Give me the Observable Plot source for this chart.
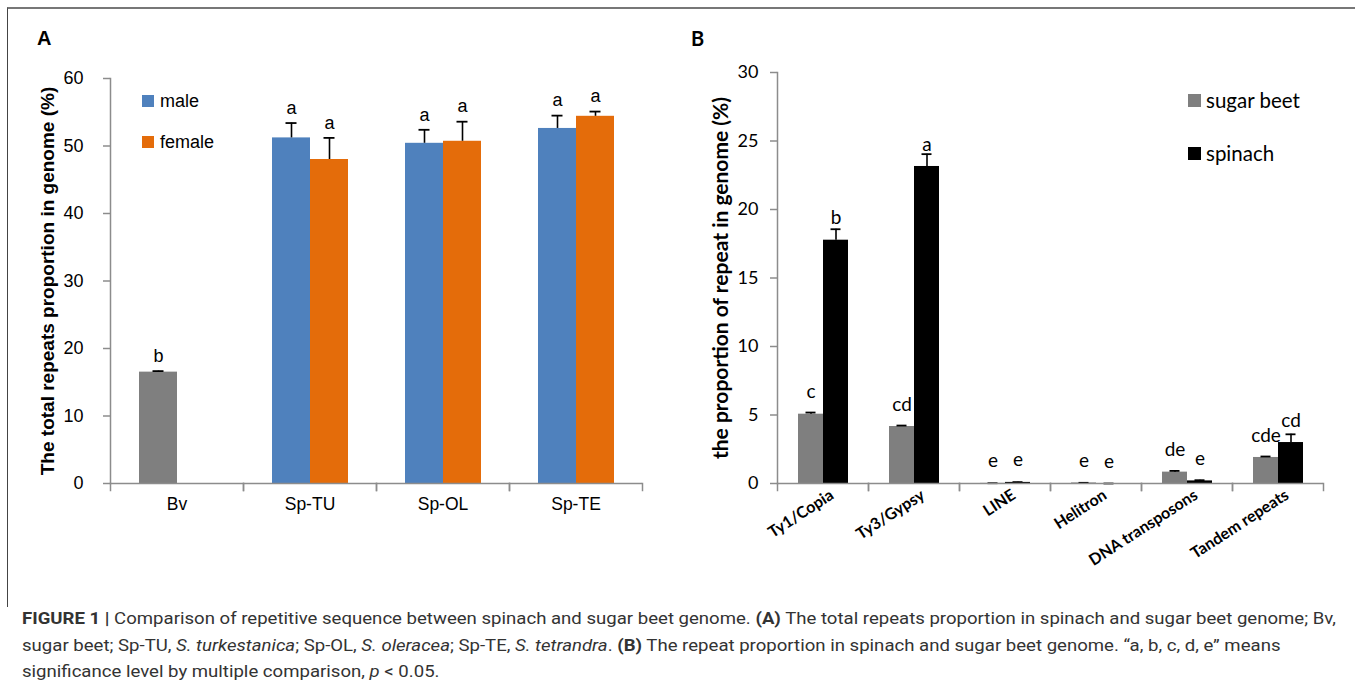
<!DOCTYPE html>
<html><head><meta charset="utf-8">
<script src="https://cdn.jsdelivr.net/npm/d3@7"></script>
<script src="https://cdn.jsdelivr.net/npm/@observablehq/plot@0.6"></script>
<style>
html,body{margin:0;padding:0;background:#fff;}
#fig{position:relative;width:1355px;height:695px;overflow:hidden;background:#fff;}
#box{position:absolute;left:7px;top:7px;width:1400px;height:598px;border-left:1.5px solid #444;border-top:2px solid #777;}
#chartA{position:absolute;left:0;top:0;}
#chartB{position:absolute;left:680px;top:0;}
#chartA [aria-label="y-axis label"]{font-weight:bold;font-size:19px;}
#chartA [aria-label="y-axis tick label"]{font-size:18px;}
#chartA [aria-label="fx-axis tick label"]{font-size:17.5px;}
#chartB [aria-label="y-axis label"]{font-weight:bold;font-size:21px;}
#chartB [aria-label="fx-axis tick label"]{font-weight:bold;font-size:16px;}
.panel{position:absolute;font-weight:bold;}
.leg{position:absolute;display:flex;align-items:center;white-space:nowrap;}
.leg span.sw{display:inline-block;}
.cap{position:absolute;left:22px;white-space:nowrap;font-family:Roboto,"Liberation Sans",sans-serif;font-size:17px;color:#333;transform-origin:0 50%;line-height:20px;}
</style>
</head><body>
<div id="fig">
  <div id="box"></div>
  <div id="chartA"></div>
  <div id="chartB"></div>
  <div class="panel" style="left:37px;top:27px;font-family:'Liberation Sans',Arial,sans-serif;font-size:20px;">A</div>
  <div class="panel" style="left:691px;top:26px;font-family:Lato,'Open Sans',sans-serif;font-size:20px;">B</div>
  <div id="legA"></div>
  <div id="legB"></div>
  <div class="cap" id="cap1" style="top:608px;"><b>FIGURE 1 |</b> Comparison of repetitive sequence between spinach and sugar beet genome. <b>(A)</b> The total repeats proportion in spinach and sugar beet genome; Bv,</div>
  <div class="cap" id="cap2" style="top:635px;">sugar beet; Sp-TU, <i>S. turkestanica</i>; Sp-OL, <i>S. oleracea</i>; Sp-TE, <i>S. tetrandra</i>. <b>(B)</b> The repeat proportion in spinach and sugar beet genome. “a, b, c, d, e” means</div>
  <div class="cap" id="cap3" style="top:661px;">significance level by multiple comparison, <i>p</i> &lt; 0.05.</div>
</div>
<script>
// ---------- Panel A data ----------
const categoriesA = ["Bv", "Sp-TU", "Sp-OL", "Sp-TE"];
const referenceCategory = "Bv";
const sexes = ["male", "female"];
const maleValues = [16.5, 51.2, 50.4, 52.6];
const maleErrors = [0.15, 2.2, 2.0, 1.9];
const maleLetters = ["b", "a", "a", "a"];
const femaleValues = [null, 48.0, 50.7, 54.4];
const femaleErrors = [null, 3.2, 2.9, 0.7];
const femaleLetters = [null, "a", "a", "a"];
const yTicksA = [0, 10, 20, 30, 40, 50, 60];

// ---------- Panel B data ----------
const categoriesB = ["Ty1/Copia", "Ty3/Gypsy", "LINE", "Helitron", "DNA transposons", "Tandem repeats"];
const seriesB = ["sugar beet", "spinach"];
const sugarBeetValues = [5.06, 4.16, 0.01, 0.04, 0.83, 1.90];
const sugarBeetErrors = [0.12, 0.07, 0.01, 0.01, 0.09, 0.07];
const sugarBeetLetters = ["c", "cd", "e", "e", "de", "cde"];
const spinachValues = [17.76, 23.14, 0.08, 0.0, 0.19, 2.99];
const spinachErrors = [0.8, 0.9, 0.02, 0.0, 0.05, 0.6];
const spinachLetters = ["b", "a", "e", "e", "e", "cd"];
const yTicksB = [0, 5, 10, 15, 20, 25, 30];

const colorsA = {"sugar beet": "#7f7f7f", male: "#4f81bd", female: "#e46c0a"};
const colorsB = {"sugar beet": "#7f7f7f", spinach: "#000000"};

// ---------- tables ----------
const rowsA = categoriesA.flatMap((cat, i) => {
  const rows = [{cat, sex: "male", group: cat === referenceCategory ? "sugar beet" : "male",
    value: maleValues[i], err: maleErrors[i], letter: maleLetters[i]}];
  if (femaleValues[i] != null) rows.push({cat, sex: "female", group: "female",
    value: femaleValues[i], err: femaleErrors[i], letter: femaleLetters[i]});
  return rows;
});
const rowsB = categoriesB.flatMap((cat, i) => [
  {cat, series: "sugar beet", value: sugarBeetValues[i], err: sugarBeetErrors[i], letter: sugarBeetLetters[i]},
  {cat, series: "spinach", value: spinachValues[i], err: spinachErrors[i], letter: spinachLetters[i]}
]);

const axisGray = "#8c8c8c";

// ---------- Panel A ----------
const hA = 520, mtA = 78, mbA = 37;
const plotA = Plot.plot({
  width: 660, height: hA, marginLeft: 110, marginRight: 18, marginTop: mtA, marginBottom: mbA,
  style: {fontFamily: "'Liberation Sans', Arial, sans-serif", fontSize: "18px", background: "transparent", color: "#000"},
  fx: {domain: categoriesA, padding: 0},
  x: {domain: sexes, paddingInner: 0, paddingOuter: 0.73, axis: null},
  y: {domain: [0, 60]},
  color: {domain: Object.keys(colorsA), range: Object.values(colorsA)},
  marks: [
    Plot.barY(rowsA, {fx: "cat", x: "sex", y: "value", fill: "group"}),
    Plot.ruleX(rowsA, {fx: "cat", x: "sex", y1: "value", y2: d => d.value + d.err, stroke: "#000", strokeWidth: 1.6}),
    Plot.tickY(rowsA, {fx: "cat", x: "sex", y: d => d.value + d.err, stroke: "#000", strokeWidth: 1.8, insetLeft: 13.5, insetRight: 13.5}),
    Plot.text(rowsA, {fx: "cat", x: "sex", y: d => d.value + d.err, text: "letter", dy: -15}),
    Plot.ruleY([0], {stroke: axisGray, strokeWidth: 1.5}),
    Plot.frame({anchor: "left", facetAnchor: "left", stroke: axisGray, strokeWidth: 1.5}),
    Plot.frame({anchor: "left", stroke: axisGray, strokeWidth: 1.5, insetTop: hA - mtA - mbA, insetBottom: -7}),
    Plot.frame({anchor: "right", stroke: axisGray, strokeWidth: 1.5, insetTop: hA - mtA - mbA, insetBottom: -7}),
    Plot.axisY({ticks: yTicksA, tickSize: 7, tickPadding: 20, stroke: axisGray, strokeWidth: 1.5,
      label: "The total repeats proportion in genome (%)", labelAnchor: "center", labelOffset: 70, labelArrow: "none"}),
    Plot.axisFx({anchor: "bottom", tickSize: 0, tickPadding: 14, label: null})
  ]
});
document.getElementById("chartA").append(plotA);

// ---------- Panel B ----------
const hB = 570, mtB = 72, mbB = 87;
const plotB = Plot.plot({
  width: 675, height: hB, marginLeft: 95, marginRight: 30, marginTop: mtB, marginBottom: mbB,
  style: {fontFamily: "Lato, 'Open Sans', sans-serif", fontSize: "18px", background: "transparent", color: "#000"},
  fx: {domain: categoriesB, padding: 0},
  x: {domain: seriesB, paddingInner: 0, paddingOuter: 0.76, axis: null},
  y: {domain: [0, 30]},
  color: {domain: Object.keys(colorsB), range: Object.values(colorsB)},
  marks: [
    Plot.barY(rowsB, {fx: "cat", x: "series", y: "value", fill: "series"}),
    Plot.ruleX(rowsB, {fx: "cat", x: "series", y1: "value", y2: d => d.value + d.err, stroke: "#000", strokeWidth: 1.6}),
    Plot.tickY(rowsB, {fx: "cat", x: "series", y: d => d.value + d.err, stroke: "#000", strokeWidth: 1.8, insetLeft: 7.5, insetRight: 7.5}),
    Plot.text(rowsB, {fx: "cat", x: "series", y: "value", text: "letter", dy: -22, fontSize: 19}),
    Plot.ruleY([0], {stroke: axisGray, strokeWidth: 1.5}),
    Plot.frame({anchor: "left", facetAnchor: "left", stroke: axisGray, strokeWidth: 1.5}),
    Plot.frame({anchor: "left", stroke: axisGray, strokeWidth: 1.5, insetTop: hB - mtB - mbB, insetBottom: -7}),
    Plot.frame({anchor: "right", stroke: axisGray, strokeWidth: 1.5, insetTop: hB - mtB - mbB, insetBottom: -7}),
    Plot.axisY({ticks: yTicksB, tickSize: 7, tickPadding: 12, stroke: axisGray, strokeWidth: 1.5,
      label: "the proportion of repeat in genome (%)", labelAnchor: "center", labelOffset: 64, labelArrow: "none"}),
    Plot.axisFx({anchor: "bottom", tickSize: 0, tickPadding: 10, tickRotate: -33, dx: 9, label: null})
  ]
});
document.getElementById("chartB").append(plotB);

// ---------- legends (HTML) ----------
function legend(id, items, colors, opts) {
  const host = document.getElementById(id);
  items.forEach((name, i) => {
    const d = document.createElement("div");
    d.className = "leg";
    d.style.left = opts.left + "px";
    d.style.top = (opts.top + i * opts.step) + "px";
    d.style.fontFamily = opts.font;
    d.style.fontSize = opts.size + "px";
    d.style.height = "20px";
    const sw = document.createElement("span");
    sw.className = "sw";
    sw.style.width = opts.sw + "px"; sw.style.height = opts.sw + "px";
    sw.style.background = colors[name];
    sw.style.marginRight = opts.gap + "px";
    d.append(sw, document.createTextNode(name));
    host.append(d);
  });
}
legend("legA", sexes, colorsA, {left: 142, top: 91, step: 41, font: "'Liberation Sans', Arial, sans-serif", size: 18, sw: 12, gap: 6});
legend("legB", seriesB, colorsB, {left: 1188, top: 90, step: 53, font: "Lato, 'Open Sans', sans-serif", size: 20.5, sw: 13, gap: 5});

// ---------- caption width fitting (one common horizontal scale) ----------
const cap1 = document.getElementById("cap1");
const capScale = 1314 / cap1.getBoundingClientRect().width;
for (const id of ["cap1", "cap2", "cap3"]) {
  document.getElementById(id).style.transform = `scaleX(${capScale})`;
}
</script>
</body></html>
